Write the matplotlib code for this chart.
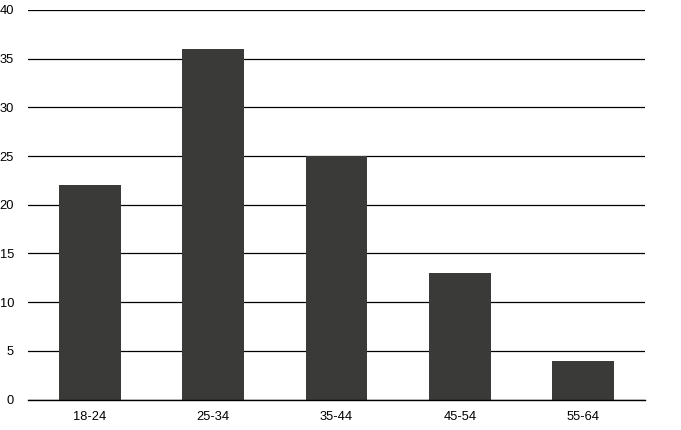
import matplotlib
matplotlib.use("Agg")
import matplotlib.pyplot as plt

categories = ["18-24", "25-34", "35-44", "45-54", "55-64"]
values = [22, 36, 25, 13, 4]
yticks = [0, 5, 10, 15, 20, 25, 30, 35, 40]

plt.rcParams['font.family'] = ['Liberation Sans', 'DejaVu Sans']
fig = plt.figure(figsize=(6.81, 4.30), dpi=100)
ax = fig.add_axes([28/681, 1-399.5/430, (645-28)/681, (399.5-10)/430])
x = range(len(categories))
ax.bar(x, values, width=0.5, color="#3a3b38", zorder=2)
ax.set_xlim(-0.5, len(categories)-0.5)
ax.set_ylim(0, 40)
ax.set_yticks(yticks)
ax.set_xticks(list(x))
ax.set_xticklabels(categories)
ax.yaxis.grid(True, color="black", linewidth=0.9, zorder=1)
ax.set_axisbelow(True)
for s in ax.spines.values():
    s.set_visible(False)
ax.tick_params(axis='both', length=0, labelsize=9.3, colors="black")
ax.tick_params(axis='y', pad=10)
ax.tick_params(axis='x', pad=8)
ax.axhline(0, color="black", linewidth=1.0, zorder=3, clip_on=False)
fig.savefig("out.png", dpi=100)
